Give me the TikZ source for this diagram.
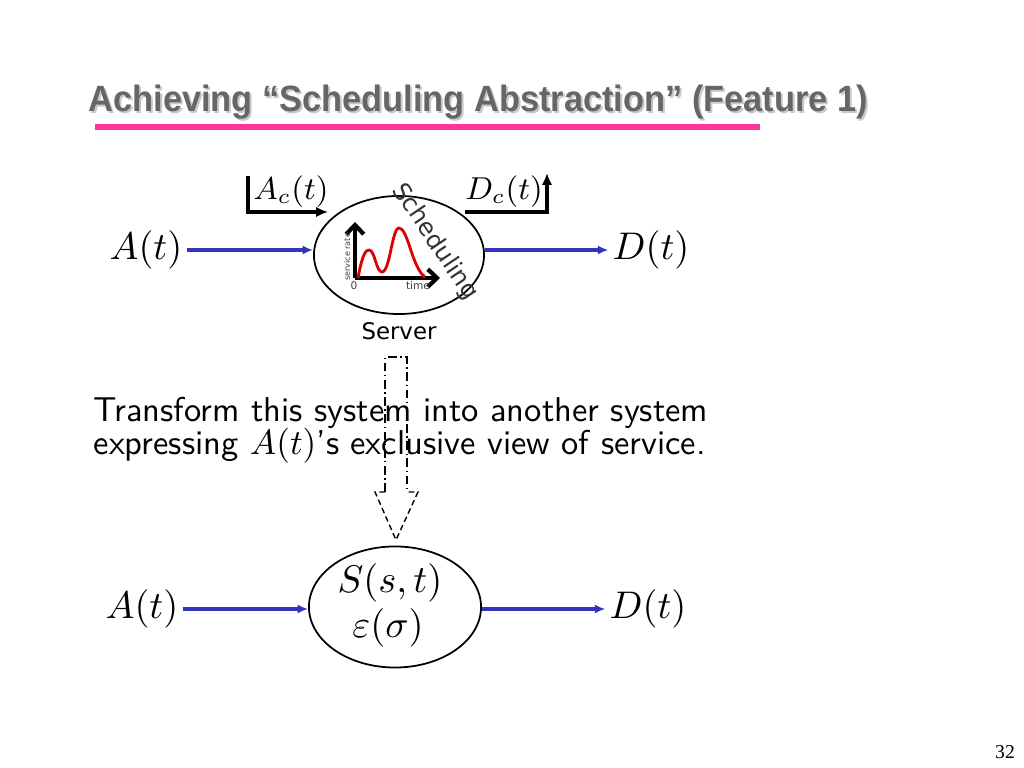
\documentclass[tikz,border=0pt]{standalone}
\usepackage{amsmath}
\usepackage{fontspec}
\newfontfamily\titlefont{Liberation Sans}
\newfontfamily\pagefont{Liberation Serif}
\newfontfamily\figfont{DejaVu Sans}
\usetikzlibrary{arrows.meta,positioning,shapes.geometric}

\definecolor{titlegray}{RGB}{102,102,102}
\definecolor{shadowgray}{RGB}{200,200,200}
\definecolor{rulepink}{RGB}{255,51,153}
\definecolor{flowblue}{RGB}{51,51,187}
\definecolor{curvered}{RGB}{220,0,0}

\tikzset{
  server/.style={draw,ellipse,line width=0.5pt,inner sep=0pt},
  flow/.style={draw=flowblue,line width=1pt,-{Latex[length=3pt,width=2.6pt]}},
  tap/.style={draw=black,line width=0.9pt,-{Latex[length=3.4pt,width=3pt]}},
  axis/.style={draw=black,line width=1.2pt,-{Straight Barb[length=2.6pt,width=5pt]}},
  bigmath/.style={font=\fontsize{11}{13}\selectfont,inner sep=1pt},
  smallmath/.style={font=\fontsize{8.6}{10}\selectfont,inner sep=1pt},
  bodytext/.style={font=\sffamily\fontsize{9.8}{12}\selectfont,inner sep=0pt},
  tiny label/.style={font=\figfont\fontsize{2.3}{3}\selectfont,inner sep=0pt,text=black!75},
  titletext/.style={anchor=base west,inner sep=0pt,xscale=0.94,
    font=\titlefont\bfseries\fontsize{10.4}{12}\selectfont},
}

\begin{document}
\begin{tikzpicture}[x=0.01cm,y=-0.01cm]
\useasboundingbox (0,0) rectangle (1024,768);

% Title
\node[titletext,text=shadowgray] at (90,114)
  {Achieving “Scheduling Abstraction” (Feature 1)};
\node[titletext,text=titlegray] (title) at (88,112)
  {Achieving “Scheduling Abstraction” (Feature 1)};
\draw[rulepink,line width=1.5pt] (95,127) -- (760,127);

% upper system
\node[server,minimum width=1.70cm,minimum height=1.18cm] (srv) at (399,255) {};
\node[bigmath] (ain) at (146,250) {$A(t)$};
\node[bigmath] (dout) at (651,250) {$D(t)$};
\draw[flow] (ain.east) -- (ain.east -| srv.west);
\draw[flow] (ain.east -| srv.east) -- (dout.west);

\node[smallmath] (ac) at (291,192) {$A_c(t)$};
\node[smallmath] (dc) at (504,192) {$D_c(t)$};
\coordinate (actop) at (248,176);
\coordinate (acin) at (328,212);
\coordinate (dcout) at (465,212);
\coordinate (dctop) at (547,173);
\draw[tap] (actop) |- (acin);
\draw[tap] (dcout) -| (dctop);

\node[rotate=-56,text=black!80,inner sep=0pt,
      font=\figfont\fontsize{6.9}{8}\selectfont] (sched) at (435,242) {Scheduling};
\node[anchor=north,font=\figfont\fontsize{6.5}{8}\selectfont,inner sep=0pt] (srvlabel)
  at (399,322) {Server};

% service curve
\coordinate (org) at (355,278);
\draw[axis] (org) -- (355,222);
\draw[axis] (org) -- (440,278);
\draw[curvered,line width=0.8pt] (358,278)
  .. controls (361,262) and (364,250) .. (369,250)
  .. controls (375,250) and (376,272) .. (382,272)
  .. controls (390,272) and (392,228) .. (399,228)
  .. controls (408,228) and (412,268) .. (425,277);
\node[rotate=90,tiny label,anchor=south] (ylab) at (351,257) {service rate};
\node[tiny label,font=\figfont\fontsize{3}{4}\selectfont] (zero) at (354,286) {0};
\node[tiny label,font=\figfont\fontsize{3}{4}\selectfont] (tlab) at (418,286) {time};

% transform arrow
\draw[dash pattern=on 2.5pt off 1pt on 0.4pt off 1pt,line width=0.4pt]
  (385,492) -- (385,357) -- (407,357) -- (407,492);
\draw[dash pattern=on 1.6pt off 1pt,line width=0.4pt]
  (385,492) -- (375,492) -- (396,540) -- (418,492) -- (407,492);

\node[bodytext,anchor=base west] (line1) at (93,422)
  {Transform this system into another system};
\node[bodytext,anchor=base west] (line2) at (93,455)
  {expressing $A(t)$'s exclusive view of service.};

% lower system
\node[server,minimum width=1.72cm,minimum height=1.21cm] (esrv) at (395,607) {};
\node[bigmath] (sst) at (390,583) {$S(s,t)$};
\node[bigmath] (eps) at (388,628) {$\varepsilon(\sigma)$};
\node[bigmath] (ain2) at (142,609) {$A(t)$};
\node[bigmath] (dout2) at (648,609) {$D(t)$};
\draw[flow] (ain2.east) -- (ain2.east -| esrv.west);
\draw[flow] (ain2.east -| esrv.east) -- (dout2.west);

% page number
\node[font=\pagefont\fontsize{5.6}{7}\selectfont,inner sep=0pt] (page) at (1005,752) {32};
\end{tikzpicture}
\end{document}
